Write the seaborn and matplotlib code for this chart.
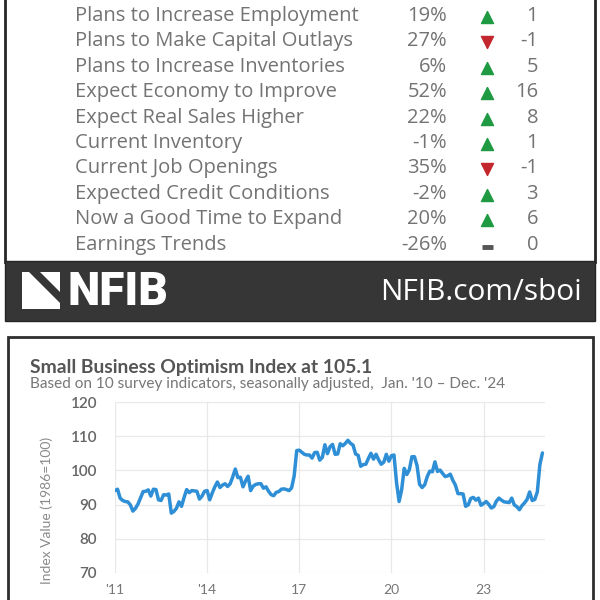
import numpy as np
import pandas as pd
import matplotlib
matplotlib.use("Agg")
import matplotlib.pyplot as plt
import seaborn as sns
from matplotlib.patches import Rectangle, Polygon

# ---------------- data ----------------
indicators = [
    "Plans to Increase Employment", "Plans to Make Capital Outlays",
    "Plans to Increase Inventories", "Expect Economy to Improve",
    "Expect Real Sales Higher", "Current Inventory", "Current Job Openings",
    "Expected Credit Conditions", "Now a Good Time to Expand", "Earnings Trends",
]
pct_values = [19, 27, 6, 52, 22, -1, 35, -2, 20, -26]
changes = [1, -1, 5, 16, 8, 1, -1, 3, 6, 0]

sboi = [
    94.1, 94.5, 91.9, 91.2, 90.9, 90.8, 89.9, 88.1, 88.9, 90.2, 92.0, 93.8,   # 2011
    93.9, 94.3, 92.5, 94.5, 94.4, 91.4, 91.2, 92.9, 92.8, 93.1, 87.5, 88.0,   # 2012
    88.9, 90.8, 89.5, 92.1, 94.4, 93.5, 94.1, 94.0, 93.9, 91.6, 92.5, 93.9,   # 2013
    94.1, 91.4, 93.4, 95.2, 96.6, 95.0, 95.7, 96.1, 95.3, 96.1, 98.1, 100.4,  # 2014
    97.9, 98.0, 95.2, 96.9, 98.3, 94.1, 95.4, 95.9, 96.1, 96.1, 94.8, 95.2,   # 2015
    93.9, 92.9, 92.6, 93.6, 93.8, 94.5, 94.6, 94.4, 94.1, 94.9, 98.4, 105.8,  # 2016
    105.9, 105.3, 104.7, 104.5, 104.5, 103.6, 105.2, 105.3, 103.0, 103.8, 107.5, 104.9,  # 2017
    106.9, 107.6, 104.7, 104.8, 107.8, 107.2, 107.9, 108.8, 107.9, 107.4, 104.8, 104.4,  # 2018
    101.2, 101.7, 101.8, 103.5, 105.0, 103.3, 104.7, 103.1, 101.8, 102.4, 104.7, 102.7,  # 2019
    104.3, 104.5, 96.4, 90.9, 94.4, 100.6, 98.8, 100.2, 104.0, 104.0, 101.4, 95.9,      # 2020
    95.0, 95.8, 98.2, 99.8, 99.6, 102.5, 99.7, 100.1, 99.1, 98.2, 98.4, 98.9,           # 2021
    97.1, 95.7, 93.2, 93.2, 93.1, 89.5, 89.9, 91.8, 92.1, 91.3, 91.9, 89.8,             # 2022
    90.3, 90.9, 90.1, 89.0, 89.4, 91.0, 91.9, 91.3, 90.8, 90.7, 90.6, 91.9,             # 2023
    89.9, 89.4, 88.5, 89.7, 90.5, 91.5, 93.7, 91.2, 91.5, 93.7, 101.7, 105.1,           # 2024
]
x_ticks = [2011, 2014, 2017, 2020, 2023]
x_tick_labels = ["'11", "'14", "17", "20", "23"]
y_ticks = [70, 80, 90, 100, 110, 120]

title = "Small Business Optimism Index at 105.1"
subtitle = "Based on 10 survey indicators, seasonally adjusted,  Jan. '10 \u2013 Dec. '24"
y_label = "Index Value (1986=100)"

# ---------------- figure ----------------
sns.set_style("white")
plt.rcParams["font.family"] = ["Open Sans", "DejaVu Sans"]

fig = plt.figure(figsize=(6, 6), dpi=100)
bg = fig.add_axes([0, 0, 1, 1], zorder=0)
bg.set_xlim(0, 600)
bg.set_ylim(600, 0)
bg.axis("off")

# top panel frame
bg.add_patch(Rectangle((5, -10), 590, 272, facecolor="white", edgecolor="#262626", lw=2.0))
# dark banner
bg.add_patch(Rectangle((5, 261), 590, 60, facecolor="#363636", edgecolor="#262626", lw=1.0))
# lower panel frame
bg.add_patch(Rectangle((8, 337), 585, 280, facecolor="white", edgecolor="#2e2e2e", lw=2.0))

# table
row_y = [16 + i * 25.4 for i in range(len(indicators))]
tcol = "#737373"
for i, (name, pct, ch) in enumerate(zip(indicators, pct_values, changes)):
    y = row_y[i]
    bg.text(75, y, name, fontsize=14.5, color=tcol, ha="left", va="center")
    bg.text(447, y, f"{pct}%", fontsize=14.5, color=tcol, ha="right", va="center")
    bg.text(538, y, f"{ch}", fontsize=14.5, color=tcol, ha="right", va="center")
    if ch > 0:
        bg.scatter([487], [y + 1], marker="^", s=75, color="#1f9a43", zorder=3)
    elif ch < 0:
        bg.scatter([487], [y + 1], marker="v", s=75, color="#c3262c", zorder=3)
    else:
        bg.plot([482, 493], [y + 2, y + 2], color="#555555", lw=3.5, solid_capstyle="butt")

# NFIB logo
bg.add_patch(Polygon([(22, 272), (29, 272), (60, 303), (60, 309), (22, 309)],
                     closed=True, facecolor="white", edgecolor="none"))
bg.add_patch(Polygon([(40, 272), (60, 272), (60, 292)],
                     closed=True, facecolor="white", edgecolor="none"))
bg.text(67, 292, "NFIB", fontsize=33, color="white", fontweight="heavy",
        family=["Roboto", "DejaVu Sans"], ha="left", va="center")
bg.text(582, 292, "NFIB.com/sboi", fontsize=21.5, color="white", ha="right", va="center")

# chart titles
bg.text(30, 368, title, fontsize=13.9, color="#555555", fontweight="bold",
        family=["Lato", "DejaVu Sans"], ha="left", va="center")
bg.text(30, 384, subtitle, fontsize=11.1, color="#777777",
        family=["Lato", "DejaVu Sans"], ha="left", va="center")
bg.text(47, 510, y_label, fontsize=10, color="#8a8a8a", rotation=90,
        family=["Lato", "DejaVu Sans"], ha="center", va="center")

# line chart
ax = fig.add_axes([115 / 600, 1 - 573 / 600, 430 / 600, 171 / 600], zorder=2)
ax.patch.set_alpha(0)
dates = pd.date_range("2011-01-01", periods=len(sboi), freq="MS")
df = pd.DataFrame({"t": dates.year + (dates.month - 1) / 12.0, "value": sboi})
sns.lineplot(data=df, x="t", y="value", ax=ax, color="#2e8fd6", linewidth=2.5)
ax.set_xlim(2011, 2025)
ax.set_ylim(70, 120)
ax.set_xticks(x_ticks)
ax.set_xticklabels(x_tick_labels)
ax.set_yticks(y_ticks)
ax.set_xlabel("")
ax.set_ylabel("")
ax.grid(True, color="#e8e8e8", lw=0.9)
for s in ax.spines.values():
    s.set_visible(False)
ax.tick_params(axis="y", length=0, pad=13, labelsize=11, labelcolor="#666666")
ax.tick_params(axis="x", length=0, pad=8, labelsize=10, labelcolor="#777777")
for lab in ax.get_yticklabels():
    lab.set_fontweight("semibold")
    lab.set_family(["Lato", "DejaVu Sans"])
for lab in ax.get_xticklabels():
    lab.set_family(["Lato", "DejaVu Sans"])

fig.savefig("out.png", dpi=100, facecolor="white")
